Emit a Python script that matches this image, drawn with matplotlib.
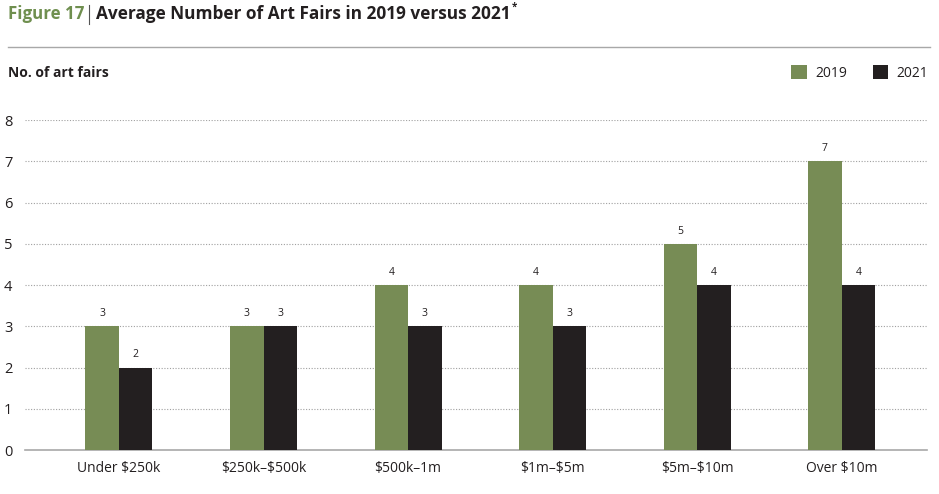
import matplotlib
matplotlib.use("Agg")
import matplotlib.pyplot as plt
import numpy as np

categories = ["Under $250k", "$250k\u2013$500k", "$500k\u20131m", "$1m\u2013$5m", "$5m\u2013$10m", "Over $10m"]
values_2019 = [3, 3, 4, 4, 5, 7]
values_2021 = [2, 3, 3, 3, 4, 4]
series_names = ["2019", "2021"]
y_ticks = [0, 1, 2, 3, 4, 5, 6, 7, 8]

GREEN = "#778c55"
BLACK = "#231f20"
TEXT = "#231f20"

plt.rcParams['font.family'] = ['Open Sans', 'DejaVu Sans']
plt.rcParams['text.parse_math'] = False

W, H = 939, 494
fig = plt.figure(figsize=(W / 100, H / 100), dpi=100)

ax_l, ax_r, ax_b, ax_t = 25, 927, 450, 120
ax = fig.add_axes([ax_l / W, 1 - ax_b / H, (ax_r - ax_l) / W, (ax_b - ax_t) / H])

x = np.arange(len(categories))
bw = 0.232
b1 = ax.bar(x - bw / 2, values_2019, bw, color=GREEN, label=series_names[0], zorder=3)
b2 = ax.bar(x + bw / 2, values_2021, bw, color=BLACK, label=series_names[1], zorder=3)

for bars, vals in ((b1, values_2019), (b2, values_2021)):
    for rect, v in zip(bars, vals):
        ax.text(rect.get_x() + rect.get_width() / 2, v + 0.17, str(v),
                ha="center", va="bottom", fontsize=7.5, color=TEXT)

ax.set_xlim(-0.65, len(categories) - 1 + 0.59)
ax.set_ylim(0, 8)
ax.set_yticks(y_ticks)
ax.set_yticklabels([str(t) for t in y_ticks], fontsize=10.5, color=TEXT)
ax.set_xticks(x)
ax.set_xticklabels(categories, fontsize=10, color=TEXT)
ax.tick_params(axis="both", length=0)
ax.tick_params(axis="y", pad=9)
ax.tick_params(axis="x", pad=8)

for t in y_ticks[1:]:
    ax.axhline(t, color="#a0a0a0", linestyle=(0, (1, 1.5)), linewidth=0.8, zorder=1)

for s in ["top", "right", "left"]:
    ax.spines[s].set_visible(False)
ax.spines["bottom"].set_color("#a8a8a8")
ax.spines["bottom"].set_linewidth(1.2)

# Title
fig.text(8 / W, 1 - 14 / H, "Figure 17", fontsize=12.2, fontweight="bold", color="#6f8f4f",
         ha="left", va="center")
fig.add_artist(plt.Line2D([89 / W, 89 / W], [1 - 5 / H, 1 - 24 / H],
                          color="#555555", linewidth=0.8))
title = fig.text(96 / W, 1 - 14 / H, "Average Number of Art Fairs in 2019 versus 2021",
                 fontsize=12.4, fontweight="bold", color=TEXT, ha="left", va="center")
fig.canvas.draw()
bb = title.get_window_extent(renderer=fig.canvas.get_renderer())
fig.text(bb.x1 / W + 1.5 / W, 1 - 7 / H, "*", fontsize=7, fontweight="bold", color=TEXT,
         ha="left", va="center")

# Separator line
fig.add_artist(plt.Line2D([8 / W, 930 / W], [1 - 47 / H, 1 - 47 / H],
                          color="#a8a8a8", linewidth=1.0))

fig.text(8 / W, 1 - 73 / H, "No. of art fairs", fontsize=10, fontweight="bold",
         color=TEXT, ha="left", va="center")

leg = fig.legend(handles=[b1, b2], labels=series_names, loc="center right",
                 bbox_to_anchor=(941 / W, 1 - 73 / H), ncol=2, frameon=False,
                 fontsize=10, handlelength=1.1, handleheight=1.1, columnspacing=1.9,
                 handletextpad=0.6)
for t in leg.get_texts():
    t.set_color(TEXT)

fig.savefig("out.png", dpi=100)
